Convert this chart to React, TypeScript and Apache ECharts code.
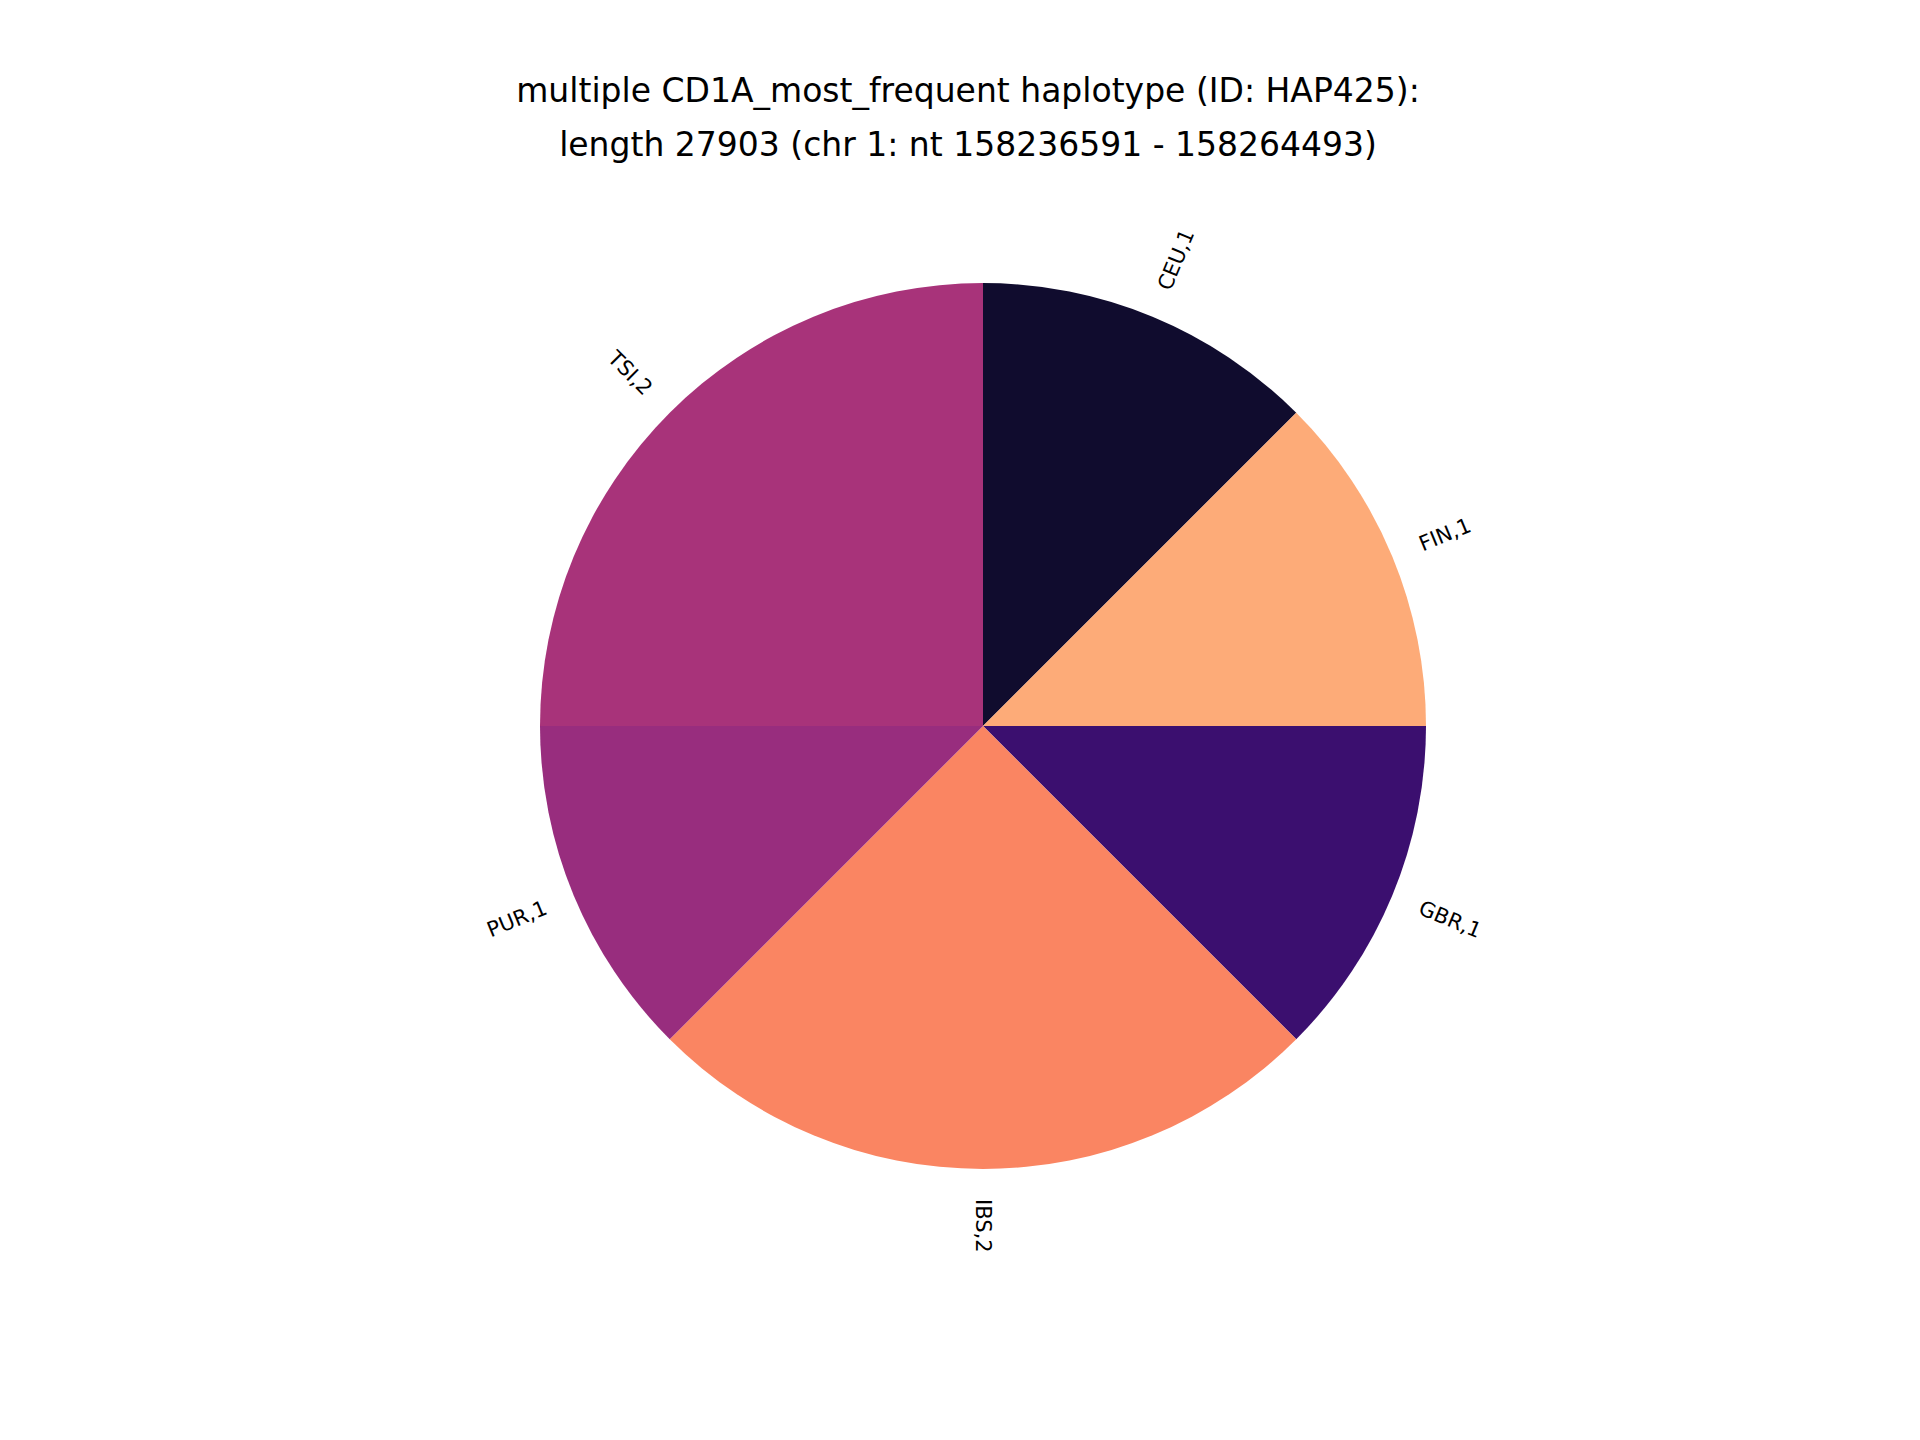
import React, { useEffect, useRef } from 'react';
import * as echarts from 'echarts';

const populations = ['CEU', 'FIN', 'GBR', 'IBS', 'PUR', 'TSI'];
const counts = [1, 1, 1, 2, 1, 2];
const colors = ['#100c2e', '#fdab78', '#3b0f6f', '#fa8562', '#982d7e', '#a8337a'];

const App: React.FC = () => {
  const chartRef = useRef<HTMLDivElement>(null);

  useEffect(() => {
    const chart = echarts.init(chartRef.current, null, { renderer: 'svg' });

    const option = {
      animation: false,
      backgroundColor: '#ffffff',
      title: {
        text: 'multiple CD1A_most_frequent haplotype (ID: HAP425):\nlength 27903 (chr 1: nt 158236591 - 158264493)',
        left: 'center',
        top: 50,
        textStyle: {
          fontFamily: 'DejaVu Sans',
          fontWeight: 'normal',
          fontSize: 33,
          lineHeight: 54,
          color: '#000',
        },
      },
      series: [{
        type: 'pie',
        center: [975, 718],
        radius: 443,
        startAngle: 90,
        clockwise: true,
        data: populations.map((p, i) => ({
          name: p,
          value: counts[i],
          itemStyle: { color: colors[i] },
        })),
        label: {
          show: true,
          position: 'outside',
          formatter: (p: any) => `${p.name},${p.value}`,
          rotate: true,
          fontFamily: 'DejaVu Sans',
          fontSize: 21,
          color: '#000',
          distanceToLabelLine: 0,
        },
        labelLine: { show: false, length: 30, length2: 0 },
        emphasis: { disabled: true },
      }],
    };

    chart.setOption(option);
    return () => chart.dispose();
  }, []);

  return <div ref={chartRef} style={{ width: '1920px', height: '1440px' }} />;
};

export default App;
